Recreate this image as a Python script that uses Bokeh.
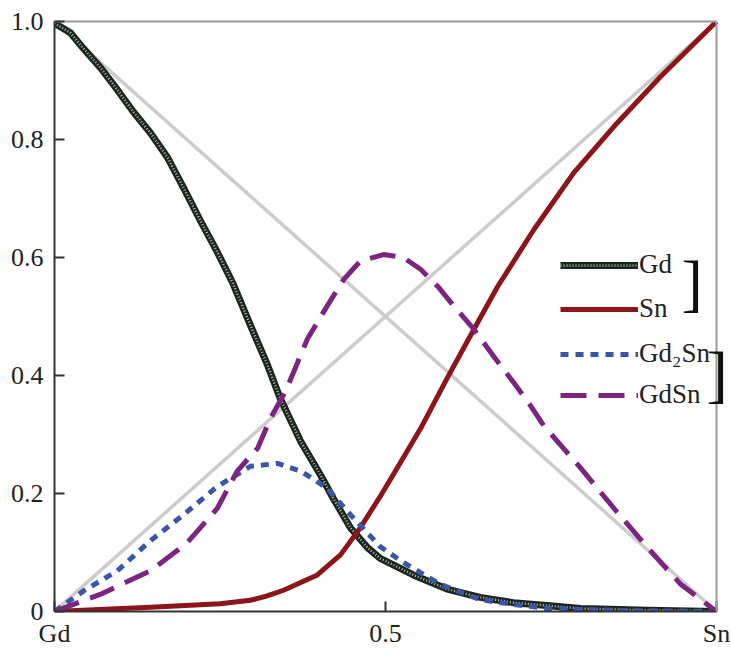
from bokeh.plotting import figure
from bokeh.models import Range1d, FixedTicker, Legend, LegendItem, Label, LinearAxis, Span
from bokeh.embed import file_html
from bokeh.resources import INLINE

# ---- data ----
x_ticks = [0, 0.5, 1]
x_tick_labels = ["Gd", "0.5", "Sn"]
y_ticks = [0, 0.2, 0.4, 0.6, 0.8, 1.0]
y_tick_labels = ["0", "0.2", "0.4", "0.6", "0.8", "1.0"]

diag_x = [0, 1]
diag_up = [0, 1]
diag_down = [1, 0]

gd_x = [0, 0.024, 0.044, 0.070, 0.095, 0.119, 0.145, 0.171, 0.195, 0.221, 0.246,
        0.270, 0.296, 0.322, 0.341, 0.372, 0.402, 0.421, 0.447, 0.473, 0.492,
        0.542, 0.593, 0.643, 0.693, 0.744, 0.795, 0.896, 1.0]
gd_y = [0.997, 0.981, 0.954, 0.921, 0.884, 0.847, 0.811, 0.769, 0.718, 0.661, 0.609,
        0.555, 0.485, 0.417, 0.361, 0.288, 0.231, 0.192, 0.142, 0.108, 0.090,
        0.062, 0.038, 0.024, 0.015, 0.010, 0.005, 0.002, 0.0]

sn_x = [0, 0.145, 0.250, 0.296, 0.320, 0.346, 0.397, 0.432, 0.462, 0.492, 0.515,
        0.553, 0.593, 0.633, 0.669, 0.724, 0.784, 0.850, 0.915, 1.0]
sn_y = [0, 0.007, 0.013, 0.019, 0.026, 0.036, 0.062, 0.096, 0.142, 0.195, 0.238,
        0.310, 0.395, 0.477, 0.550, 0.647, 0.743, 0.828, 0.906, 1.0]

gd2sn_x = [0, 0.044, 0.095, 0.145, 0.195, 0.246, 0.296, 0.337, 0.372, 0.412, 0.447,
           0.492, 0.527, 0.583, 0.643, 0.693, 0.744, 0.845, 1.0]
gd2sn_y = [0, 0.035, 0.069, 0.120, 0.164, 0.212, 0.246, 0.251, 0.238, 0.209, 0.164,
           0.110, 0.083, 0.046, 0.020, 0.012, 0.005, 0.002, 0.0]

gdsn_x = [0, 0.069, 0.145, 0.200, 0.246, 0.276, 0.307, 0.326, 0.349, 0.382, 0.412,
          0.437, 0.462, 0.497, 0.527, 0.553, 0.579, 0.603, 0.633, 0.663, 0.693,
          0.719, 0.739, 0.795, 0.845, 0.896, 0.946, 1.0]
gdsn_y = [0, 0.029, 0.069, 0.116, 0.175, 0.238, 0.277, 0.327, 0.373, 0.462, 0.518,
          0.563, 0.594, 0.605, 0.600, 0.580, 0.551, 0.518, 0.479, 0.433, 0.389,
          0.349, 0.315, 0.243, 0.175, 0.108, 0.046, 0.0]

FONT = "Liberation Serif"

# frame runs to the right edge of the canvas so the second bracket is not clipped;
# x = 1 still lands on the drawn right border (see Span below)
X_END = 677.0 / 662.0

p = figure(width=731, height=650, output_backend="svg", toolbar_location=None,
           x_range=Range1d(0, X_END), y_range=Range1d(0, 1),
           min_border_left=54, min_border_right=0, min_border_top=21,
           min_border_bottom=36)
p.xgrid.visible = False
p.ygrid.visible = False
p.outline_line_color = None
p.background_fill_color = "white"
p.border_fill_color = "white"

p.xaxis.ticker = FixedTicker(ticks=x_ticks)
p.xaxis.major_label_overrides = {t: l for t, l in zip(x_ticks, x_tick_labels)}
p.xaxis.bounds = (0, 1)
p.yaxis.ticker = FixedTicker(ticks=y_ticks)
p.yaxis.major_label_overrides = {t: l for t, l in zip(y_ticks, y_tick_labels)}
for ax in (p.xaxis, p.yaxis):
    ax.axis_line_color = "#333333"
    ax.axis_line_width = 2
    ax.major_tick_in = 10
    ax.major_tick_out = 0
    ax.major_tick_line_width = 2
    ax.major_tick_line_color = "#333333"
    ax.minor_tick_line_color = None
    ax.major_label_text_font = FONT
    ax.major_label_text_font_size = "26px"
    ax.major_label_text_color = "#222222"
p.xaxis.major_label_standoff = 7
p.yaxis.major_label_standoff = 11

# top border (gray) limited to the data width
top_axis = LinearAxis(bounds=(0, 1), ticker=FixedTicker(ticks=[]),
                      axis_line_color="#999999", axis_line_width=2,
                      major_tick_line_color=None, minor_tick_line_color=None,
                      major_label_text_font_size="0px")
p.add_layout(top_axis, "above")
# right border (gray) at x = 1
p.add_layout(Span(location=1, dimension="height", line_color="#999999", line_width=2))

# gray reference diagonals
p.line(diag_x, diag_up, line_color="#cccccc", line_width=3.5)
p.line(diag_x, diag_down, line_color="#cccccc", line_width=3.5)

# Gd (textured thick line)
gd_base = p.line(gd_x, gd_y, line_color="#1c241e", line_width=7, line_join="round")
gd_tex = p.line(gd_x, gd_y, line_color="#a9c9b1", line_width=2.5, line_dash="1 2")
# Sn
sn_r = p.line(sn_x, sn_y, line_color="#8b1518", line_width=5, line_join="round")
# Gd2Sn
gd2sn_r = p.line(gd2sn_x, gd2sn_y, line_color="#3a56a8", line_width=5, line_dash="8 7")
# GdSn
gdsn_r = p.line(gdsn_x, gdsn_y, line_color="#7b2580", line_width=5, line_dash="26 12")

common = dict(orientation="vertical", padding=0, margin=0, label_standoff=1,
              label_text_font=FONT, label_text_font_size="27px",
              label_text_color="#222222", border_line_alpha=0,
              background_fill_alpha=0, glyph_width=78)

leg1 = Legend(items=[LegendItem(label="Gd", renderers=[gd_base, gd_tex]),
                     LegendItem(label="Sn", renderers=[sn_r])],
              location=(506, 287), glyph_height=30, spacing=13, **common)
leg2 = Legend(items=[LegendItem(label="Gd\u2082Sn", renderers=[gd2sn_r]),
                     LegendItem(label="GdSn", renderers=[gdsn_r])],
              location=(506, 201), glyph_height=26, spacing=10, **common)
p.add_layout(leg1, "center")
p.add_layout(leg2, "center")

p.add_layout(Label(x=0.947, y=0.558, text="]", text_font=FONT, text_font_size="64px",
                   text_baseline="middle", text_align="left", text_color="#111111",
                   level="overlay"))
p.add_layout(Label(x=0.985, y=0.403, text="]", text_font=FONT, text_font_size="64px",
                   text_baseline="middle", text_align="left", text_color="#111111",
                   level="overlay"))

open("out.html", "w").write(file_html(p, INLINE))
